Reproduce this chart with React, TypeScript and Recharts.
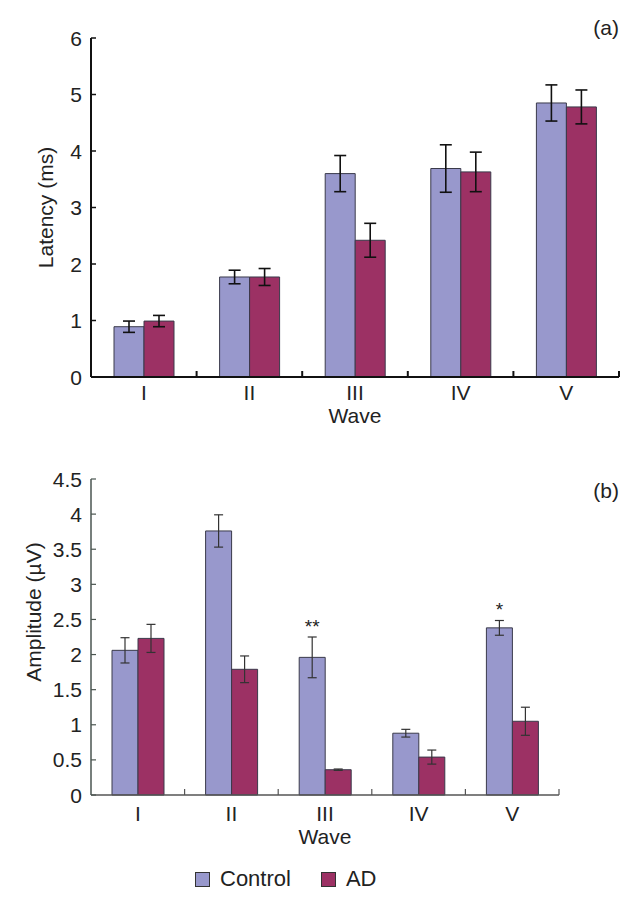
import React from "react";
import { Bar, BarChart, ErrorBar, Legend, Rectangle, XAxis, YAxis } from "recharts";

const WAVES = ["I", "II", "III", "IV", "V"];

// (a) latency, ms
const LATENCY_CONTROL = [0.89, 1.77, 3.6, 3.69, 4.85];
const LATENCY_CONTROL_SD = [0.1, 0.12, 0.32, 0.42, 0.32];
const LATENCY_AD = [0.99, 1.77, 2.42, 3.63, 4.78];
const LATENCY_AD_SD = [0.1, 0.15, 0.3, 0.35, 0.3];
const LATENCY_TICKS = [0, 1, 2, 3, 4, 5, 6];

// (b) amplitude, µV
const AMP_CONTROL = [2.06, 3.76, 1.96, 0.88, 2.38];
const AMP_CONTROL_SD = [0.18, 0.23, 0.29, 0.055, 0.105];
const AMP_AD = [2.23, 1.79, 0.36, 0.54, 1.05];
const AMP_AD_SD = [0.2, 0.19, 0.01, 0.1, 0.2];
const AMP_SIG = ["", "", "**", "", "*"];
const AMP_TICKS = [0, 0.5, 1, 1.5, 2, 2.5, 3, 3.5, 4, 4.5];

const CONTROL = "#9898cc";
const AD = "#9c3164";
const FONT = '"Liberation Sans", Arial, Helvetica, sans-serif';
const FS = 21;

const latencyData = WAVES.map((w, i) => ({
  wave: w,
  control: LATENCY_CONTROL[i],
  controlSd: LATENCY_CONTROL_SD[i],
  ad: LATENCY_AD[i],
  adSd: LATENCY_AD_SD[i],
}));

const ampData = WAVES.map((w, i) => ({
  wave: w,
  control: AMP_CONTROL[i],
  controlSd: AMP_CONTROL_SD[i],
  ad: AMP_AD[i],
  adSd: AMP_AD_SD[i],
  sig: AMP_SIG[i],
}));

function YTick({ x, y, payload, stroke, strokeWidth }: any) {
  return (
    <g>
      <line x1={x} x2={x + 5} y1={y} y2={y} stroke={stroke} strokeWidth={strokeWidth} />
      <text x={x - 9} y={y} dy="0.36em" textAnchor="end" fontSize={FS} fontFamily={FONT} fill="#222">
        {payload.value}
      </text>
    </g>
  );
}

function XTick({ x, y, payload, stroke, strokeWidth, labelDy }: any) {
  const edge = x + (payload.offset ?? 0);
  return (
    <g>
      <line x1={edge} x2={edge} y1={y} y2={y - 6} stroke={stroke} strokeWidth={strokeWidth} />
      <text x={x} y={y + labelDy} dy="0.36em" textAnchor="middle" fontSize={FS} fontFamily={FONT} fill="#222">
        {payload.value}
      </text>
    </g>
  );
}

function SideLabel({ viewBox, text, shiftX = 0, shiftY = 0 }: any) {
  const cx = viewBox.x + viewBox.width / 2 + shiftX;
  const cy = viewBox.y + viewBox.height / 2 + shiftY;
  return (
    <text
      x={cx}
      y={cy}
      transform={`rotate(-90 ${cx} ${cy})`}
      textAnchor="middle"
      dy="0.36em"
      fontSize={FS}
      fontFamily={FONT}
      fill="#222"
    >
      {text}
    </text>
  );
}

// control bar that also carries the significance stars above its error bar
function StarBar(props: any) {
  const { x, y, width, height, payload, fill } = props;
  const perUnit = payload.control > 0 ? height / payload.control : 0;
  const errTop = y - payload.controlSd * perUnit;
  return (
    <g>
      <Rectangle x={x} y={y} width={width} height={height} fill={fill} stroke="#3a3a4a" strokeWidth={1} />
      {payload.sig ? (
        <text x={x + width / 2} y={errTop - 4} textAnchor="middle" fontSize={19} fontFamily={FONT} fill="#222">
          {payload.sig}
        </text>
      ) : null}
    </g>
  );
}

function LegendBox() {
  const item = (color: string, label: string, gap: number) => (
    <div style={{ display: "flex", alignItems: "center", marginRight: gap }}>
      <span
        style={{
          display: "inline-block",
          width: 13,
          height: 13,
          background: color,
          border: "1px solid #333",
          marginRight: 10,
        }}
      />
      <span style={{ fontSize: 22, fontFamily: FONT, color: "#222" }}>{label}</span>
    </div>
  );
  return (
    <div style={{ display: "flex", alignItems: "center", height: 46, paddingLeft: 195 }}>
      {item(CONTROL, "Control", 30)}
      {item(AD, "AD", 0)}
    </div>
  );
}

const panelTag = (top: number, text: string) => (
  <div
    style={{
      position: "absolute",
      top,
      right: 631 - 619,
      fontSize: FS,
      fontFamily: FONT,
      color: "#222",
      lineHeight: "21px",
    }}
  >
    {text}
  </div>
);

export default function App() {
  const topAxis = "#111";
  const botAxis = "#4a5550";
  return (
    <div style={{ position: "absolute", left: 0, top: 0, width: 631, height: 902, background: "#fff" }}>
      <div style={{ position: "absolute", left: 0, top: 0 }}>
        <BarChart
          width={631}
          height={440}
          data={latencyData}
          margin={{ top: 38, right: 12, left: 0, bottom: 0 }}
          barGap={0}
          barSize={30}
        >
          <XAxis
            dataKey="wave"
            height={63}
            tickSize={0}
            tickMargin={0}
            tickLine={false}
            axisLine={{ stroke: topAxis, strokeWidth: 2 }}
            tick={<XTick stroke={topAxis} strokeWidth={2} labelDy={15} />}
            label={{ value: "Wave", position: "insideBottom", offset: 17, fontSize: FS, fontFamily: FONT, fill: "#222" }}
          />
          <YAxis
            width={91}
            domain={[0, 6]}
            ticks={LATENCY_TICKS}
            tickSize={0}
            tickMargin={0}
            tickLine={false}
            axisLine={{ stroke: topAxis, strokeWidth: 2 }}
            tick={<YTick stroke={topAxis} strokeWidth={1.5} />}
            label={<SideLabel text="Latency (ms)" />}
          />
          <Bar dataKey="control" name="Control" fill={CONTROL} stroke="#3a3a4a" strokeWidth={1} isAnimationActive={false}>
            <ErrorBar dataKey="controlSd" width={6} stroke="#111" strokeWidth={1.6} />
          </Bar>
          <Bar dataKey="ad" name="AD" fill={AD} stroke="#3a3a4a" strokeWidth={1} isAnimationActive={false}>
            <ErrorBar dataKey="adSd" width={6} stroke="#111" strokeWidth={1.6} />
          </Bar>
        </BarChart>
      </div>
      {panelTag(17, "(a)")}

      <div style={{ position: "absolute", left: 0, top: 440 }}>
        <BarChart
          width={631}
          height={462}
          data={ampData}
          margin={{ top: 39, right: 72, left: 0, bottom: 0 }}
          barGap={0}
          barSize={26}
        >
          <XAxis
            dataKey="wave"
            height={61}
            tickSize={0}
            tickMargin={0}
            tickLine={false}
            axisLine={{ stroke: "#555", strokeWidth: 1.5 }}
            tick={<XTick stroke="#555" strokeWidth={1.2} labelDy={18} />}
            label={{ value: "Wave", position: "insideBottom", offset: 12, fontSize: FS, fontFamily: FONT, fill: "#222" }}
          />
          <YAxis
            width={91}
            domain={[0, 4.5]}
            ticks={AMP_TICKS}
            tickSize={0}
            tickMargin={0}
            tickLine={false}
            axisLine={{ stroke: botAxis, strokeWidth: 1.5 }}
            tick={<YTick stroke={botAxis} strokeWidth={1.2} />}
            label={<SideLabel text="Amplitude (µV)" shiftX={-12} shiftY={-25} />}
          />
          <Bar
            dataKey="control"
            name="Control"
            fill={CONTROL}
            stroke="#3a3a4a"
            strokeWidth={1}
            shape={<StarBar />}
            isAnimationActive={false}
          >
            <ErrorBar dataKey="controlSd" width={4.5} stroke="#333" strokeWidth={1.2} />
          </Bar>
          <Bar dataKey="ad" name="AD" fill={AD} stroke="#3a3a4a" strokeWidth={1} isAnimationActive={false}>
            <ErrorBar dataKey="adSd" width={4.5} stroke="#333" strokeWidth={1.2} />
          </Bar>
          <Legend
            verticalAlign="bottom"
            content={() => <LegendBox />}
            wrapperStyle={{ left: 0, width: 631, height: 46 }}
          />
        </BarChart>
      </div>
      {panelTag(480, "(b)")}
    </div>
  );
}
